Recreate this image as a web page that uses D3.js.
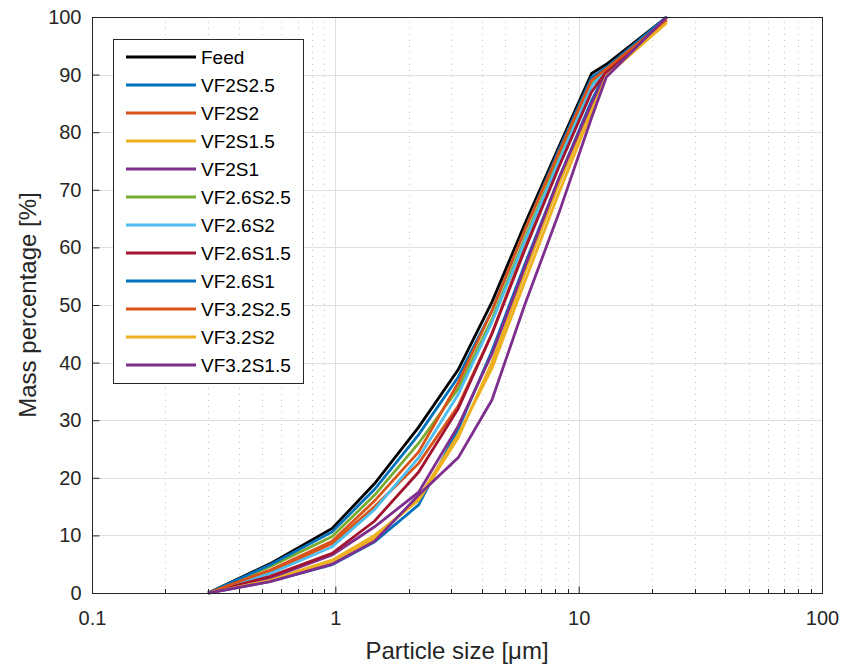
<!DOCTYPE html>
<html>
<head>
<meta charset="utf-8">
<script src="https://cdn.jsdelivr.net/npm/d3@7"></script>
<style>
  body { margin: 0; background: #fff; }
  svg { font-family: "Liberation Sans", Arial, sans-serif; }
</style>
</head>
<body>
<div id="chart"></div>
<script>
var margin = {top: 17, right: 19, bottom: 75, left: 92};
var width = 841, height = 668;

// particle sizes (um) at which each curve has a point
var sizes = [0.3, 0.54, 0.97, 1.45, 2.2, 3.2, 4.4, 6.0, 8.3, 11.3, 13, 23];

var names = ['Feed', 'VF2S2.5', 'VF2S2', 'VF2S1.5', 'VF2S1', 'VF2.6S2.5', 'VF2.6S2',
             'VF2.6S1.5', 'VF2.6S1', 'VF3.2S2.5', 'VF3.2S2', 'VF3.2S1.5'];

var colors = ['#000000', '#0072BD', '#D95319', '#EDB120', '#7E2F8E', '#77AC30', '#4DBEEE',
              '#A2142F', '#0072BD', '#D95319', '#EDB120', '#7E2F8E'];

// cumulative mass percentage per series, same order as names
var feed      = [0, 5.1, 11.2, 19.0, 28.8, 38.8, 50.5, 64, 77.5, 90.2, 91.8, 100];
var vf2s25    = [0, 2.0, 4.9, 8.9, 15.3, 28.5, 42, 57, 72, 85.5, 90.5, 100];
var vf2s2     = [0, 3.7, 8.6, 15, 22.5, 32.5, 45, 60, 75, 88, 90.8, 99.5];
var vf2s15    = [0, 2.3, 5.7, 10, 16.1, 27, 40, 55.5, 71, 84.5, 90, 99];
var vf2s1     = [0, 2.6, 6.6, 11.5, 17.5, 29, 41.5, 56.5, 72, 85, 90.2, 100];
var vf26s25   = [0, 4.6, 9.8, 17, 26, 35.5, 47.5, 61.5, 75.5, 88.5, 91, 100];
var vf26s2    = [0, 3.4, 8.0, 14.5, 23.5, 34.5, 47, 61, 75, 88, 90.8, 100];
var vf26s15   = [0, 2.9, 6.9, 12.5, 21, 32, 45, 59.5, 74, 87, 90.5, 100];
var vf26s1    = [0, 4.9, 10.6, 18, 27.5, 37.5, 49, 63, 77, 89.5, 91.2, 100];
var vf32s25   = [0, 4.0, 9.0, 16, 24.5, 36.5, 49, 63, 76.5, 89, 91, 99.5];
var vf32s2    = [0, 2.2, 5.5, 9.5, 16.5, 27.5, 39, 54, 69.5, 83.5, 89.8, 99];
var vf32s15   = [0, 1.96, 5.0, 9.0, 17, 23.5, 33.5, 50, 66, 82.5, 89.6, 100];

var seriesValues = [feed, vf2s25, vf2s2, vf2s15, vf2s1, vf26s25, vf26s2,
                    vf26s15, vf26s1, vf32s25, vf32s2, vf32s15];

var xTicks = [0.1, 1, 10, 100];
var yTicks = [0, 10, 20, 30, 40, 50, 60, 70, 80, 90, 100];

var svg = d3.select('#chart').append('svg')
    .attr('width', width)
    .attr('height', height);

var x = d3.scaleLog()
    .domain([0.1, 100])
    .range([margin.left, width - margin.right]);

var y = d3.scaleLinear()
    .domain([0, 100])
    .range([height - margin.bottom, margin.top]);

var x0 = x.range()[0], x1 = x.range()[1];
var y0 = y.range()[0], y1 = y.range()[1];

// minor grid (dotted, x only)
var minor = [];
[0.1, 1, 10].forEach(function(d) {
  for (var k = 2; k <= 9; k++) minor.push(d * k);
});

svg.append('g')
  .selectAll('line')
  .data(minor)
  .enter().append('line')
    .attr('x1', function(d) { return Math.round(x(d)) + 0.5; })
    .attr('x2', function(d) { return Math.round(x(d)) + 0.5; })
    .attr('y1', y0)
    .attr('y2', y1)
    .attr('stroke', '#c4c4c4')
    .attr('stroke-width', 1)
    .attr('stroke-dasharray', '1,5');

// major grid
svg.append('g')
  .selectAll('line')
  .data(xTicks)
  .enter().append('line')
    .attr('x1', function(d) { return Math.round(x(d)) + 0.5; })
    .attr('x2', function(d) { return Math.round(x(d)) + 0.5; })
    .attr('y1', y0)
    .attr('y2', y1)
    .attr('stroke', '#dfdfdf');

svg.append('g')
  .selectAll('line')
  .data(yTicks)
  .enter().append('line')
    .attr('x1', x0)
    .attr('x2', x1)
    .attr('y1', function(d) { return Math.round(y(d)) + 0.5; })
    .attr('y2', function(d) { return Math.round(y(d)) + 0.5; })
    .attr('stroke', '#dfdfdf');

// curves
var line = d3.line()
    .x(function(d, i) { return x(sizes[i]); })
    .y(function(d) { return y(d); });

svg.append('g')
  .selectAll('path')
  .data(seriesValues)
  .enter().append('path')
    .attr('d', function(d) { return line(d); })
    .attr('fill', 'none')
    .attr('stroke', function(d, i) { return colors[i]; })
    .attr('stroke-width', 2.8)
    .attr('stroke-linejoin', 'miter');

// axes (ticks pointing inward, MATLAB style)
var xAxis = d3.axisBottom(x)
    .tickValues(xTicks)
    .tickFormat(function(d) { return d; })
    .tickSize(-7)
    .tickPadding(17);

var gx = svg.append('g')
    .attr('transform', 'translate(0,' + (y0 + 0.5) + ')')
    .call(xAxis);

gx.select('.domain').remove();
gx.selectAll('.tick line').attr('stroke', '#262626');
gx.selectAll('.tick text')
    .attr('fill', '#262626')
    .style('font-size', '20px');

// minor ticks on bottom axis
svg.append('g')
  .selectAll('line')
  .data(minor)
  .enter().append('line')
    .attr('x1', function(d) { return Math.round(x(d)) + 0.5; })
    .attr('x2', function(d) { return Math.round(x(d)) + 0.5; })
    .attr('y1', y0)
    .attr('y2', y0 - 4)
    .attr('stroke', '#262626');

var yAxis = d3.axisLeft(y)
    .tickValues(yTicks)
    .tickSize(-7)
    .tickPadding(11);

var gy = svg.append('g')
    .attr('transform', 'translate(' + (x0 + 0.5) + ',0)')
    .call(yAxis);

gy.select('.domain').remove();
gy.selectAll('.tick line').attr('stroke', '#262626');
gy.selectAll('.tick text')
    .attr('fill', '#262626')
    .style('font-size', '20px');

// box
svg.append('rect')
    .attr('x', x0 + 0.5)
    .attr('y', y1 + 0.5)
    .attr('width', x1 - x0)
    .attr('height', y0 - y1)
    .attr('fill', 'none')
    .attr('stroke', '#262626')
    .attr('stroke-width', 1);

// axis titles
svg.append('text')
    .attr('x', (x0 + x1) / 2)
    .attr('y', 659)
    .attr('text-anchor', 'middle')
    .attr('fill', '#262626')
    .style('font-size', '24px')
    .text('Particle size [\u03BCm]');

svg.append('text')
    .attr('transform', 'translate(36,' + ((y0 + y1) / 2) + ') rotate(-90)')
    .attr('text-anchor', 'middle')
    .attr('fill', '#262626')
    .style('font-size', '24px')
    .text('Mass percentage [%]');

// legend
var legend = svg.append('g').attr('transform', 'translate(113,39)');

legend.append('rect')
    .attr('x', 0.5)
    .attr('y', 0.5)
    .attr('width', 190)
    .attr('height', 344)
    .attr('fill', '#fff')
    .attr('stroke', '#262626');

var rows = legend.selectAll('g.row')
  .data(names)
  .enter().append('g')
    .attr('class', 'row')
    .attr('transform', function(d, i) { return 'translate(0,' + (18 + i * 28) + ')'; });

rows.append('line')
    .attr('x1', 13)
    .attr('x2', 83)
    .attr('y1', 0)
    .attr('y2', 0)
    .attr('stroke', function(d, i) { return colors[i]; })
    .attr('stroke-width', 2.8);

rows.append('text')
    .attr('x', 88)
    .attr('y', 0)
    .attr('dy', '0.36em')
    .attr('fill', '#000')
    .style('font-size', '19px')
    .text(function(d) { return d; });
</script>
</body>
</html>
